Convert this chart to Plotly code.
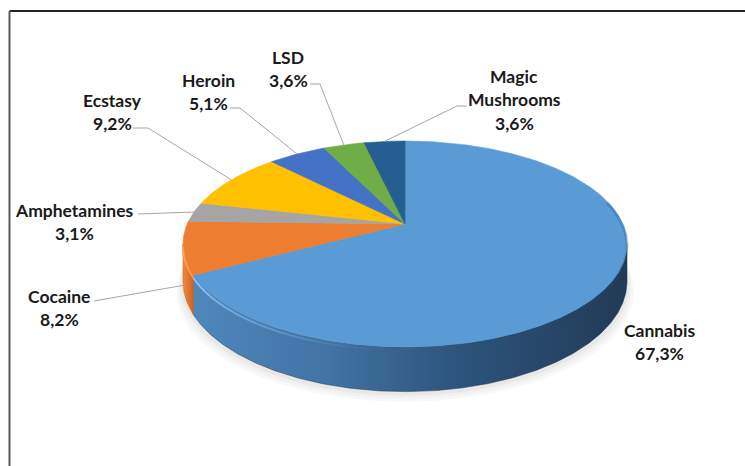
import numpy as np
import plotly.graph_objects as go

# ---- data -------------------------------------------------------------
drugs = ["Cannabis", "Cocaine", "Amphetamines", "Ecstasy", "Heroin", "LSD", "Magic Mushrooms"]
shares = [67.3, 8.2, 3.1, 9.2, 5.1, 3.6, 3.6]

# ---- styling ----------------------------------------------------------
face_colors = {
    "Cannabis": "#5B9BD5",
    "Cocaine": "#ED7D31",
    "Amphetamines": "#A5A5A5",
    "Ecstasy": "#FFC000",
    "Heroin": "#4472C4",
    "LSD": "#70AD47",
    "Magic Mushrooms": "#255E91",
}
side_scales = {
    "Cannabis": [[0, "#4f87bc"], [0.3, "#4274a5"], [0.6, "#2e557d"], [1, "#213a56"]],
    "Cocaine": [[0, "#f28a3a"], [1, "#c8652a"]],
    "Amphetamines": [[0, "#bdbdbd"], [1, "#7a7a7a"]],
    "Ecstasy": [[0, "#ffcc33"], [1, "#b88a00"]],
    "Heroin": [[0, "#5a84cf"], [1, "#2f5090"]],
    "LSD": [[0, "#86c05e"], [1, "#4f7d33"]],
    "Magic Mushrooms": [[0, "#2f6fa8"], [1, "#1a4269"]],
}

# label placement: centre x, y of first line
label_pos = {
    "Cannabis": (659, 330),
    "Cocaine": (59, 296),
    "Amphetamines": (74, 210),
    "Ecstasy": (112, 100),
    "Heroin": (208, 80),
    "LSD": (288, 57),
    "Magic Mushrooms": (514, 76),
}
LINE_GAP = 23.5
# leader line points on the label side, followed by the anchor on the pie
leader_pts = {
    "Cocaine": [(94, 301)],
    "Amphetamines": [(138, 214)],
    "Ecstasy": [(133, 128), (148, 128)],
    "Heroin": [(230, 108), (240, 108)],
    "LSD": [(310, 84), (320, 84)],
    "Magic Mushrooms": [(467, 106), (457, 106)],
}
leader_depth = {"Cocaine": 1.0}

W, H = 745, 466

# ---- 3-D pie projection -------------------------------------------------
CX, CY = 405.0, 224.0     # projected centre of the top face
RX, RY = 217.8, 99.1      # radii of the disc
PERSP = 0.194             # perspective strength (far side shrinks)
DEPTH = 36.0              # thickness of the pie


def rim(theta_deg, t=0.0):
    th = np.radians(theta_deg)
    u, v = np.sin(th), np.cos(th)
    w = 1 + PERSP * v
    return CX + RX * u / w, CY + (-RY * v + DEPTH * t) / w


total = sum(shares)
bounds = np.concatenate([[0], np.cumsum(shares) / total * 360])
vis0 = np.degrees(np.arccos(-PERSP))
vis1 = 360 - vis0

fig = go.Figure()

# soft shadow under the pie
sh_th = np.linspace(0, 360, 241)
for dy, spread, col in [(10, 1.03, "#f8f8f8"), (7, 1.02, "#f1f1f1"), (4, 1.01, "#e8e8e8")]:
    sx, sy = rim(sh_th, 1.0)
    sx = CX + (sx - CX) * spread
    sy = sy + dy
    fig.add_trace(go.Scatter(x=sx, y=sy, fill="toself", fillcolor=col, mode="none",
                             hoverinfo="skip", showlegend=False))

# side walls (front half only)
for name, a0, a1 in zip(drugs, bounds[:-1], bounds[1:]):
    s0, s1 = max(a0, vis0), min(a1, vis1)
    if s1 <= s0:
        continue
    th = np.linspace(s0, s1, max(int((s1 - s0) * 2), 4))
    tx, ty = rim(th, 0.0)
    bx, by = rim(th[::-1], 1.0)
    xs = np.concatenate([tx, bx, tx[:1]])
    ys = np.concatenate([ty, by, ty[:1]])
    fig.add_trace(go.Scatter(
        x=xs, y=ys, fill="toself", mode="lines",
        line=dict(width=0.5, color=side_scales[name][-1][1]),
        fillgradient=dict(type="horizontal", colorscale=side_scales[name],
                          start=float(xs.min()), stop=float(xs.max())),
        hoverinfo="skip", showlegend=False))

# top faces
for name, a0, a1 in zip(drugs, bounds[:-1], bounds[1:]):
    th = np.linspace(a0, a1, max(int((a1 - a0) * 2), 4))
    rx, ry = rim(th)
    xs = np.concatenate([[CX], rx, [CX]])
    ys = np.concatenate([[CY], ry, [CY]])
    fig.add_trace(go.Scatter(x=xs, y=ys, fill="toself", fillcolor=face_colors[name],
                             mode="lines", line=dict(width=0.6, color=face_colors[name]),
                             hoverinfo="skip", showlegend=False))

# bevel highlight on the front-left rim, fading towards the front
seg = np.linspace(185, bounds[1], 24)
for i in range(len(seg) - 1):
    frac = (i + 1) / (len(seg) - 1)
    hx, hy = rim(np.linspace(seg[i], seg[i + 1], 4), 0.07)
    fig.add_trace(go.Scatter(x=hx, y=hy, mode="lines",
                             line=dict(width=2, color=f"rgba(140,200,250,{0.95 * frac ** 1.3:.3f})"),
                             hoverinfo="skip", showlegend=False))
hx, hy = rim(np.linspace(bounds[1], vis1, 20), 0.07)
fig.add_trace(go.Scatter(x=hx, y=hy, mode="lines", line=dict(width=2, color="rgba(255,160,80,0.9)"),
                         hoverinfo="skip", showlegend=False))
# darker bevel on the right rim
seg = np.linspace(vis0 - 25, 170, 20)
for i in range(len(seg) - 1):
    frac = 1 - i / (len(seg) - 1)
    hx, hy = rim(np.linspace(seg[i], seg[i + 1], 4), 0.05)
    fig.add_trace(go.Scatter(x=hx, y=hy, mode="lines",
                             line=dict(width=3, color=f"rgba(45,85,130,{0.3 * frac:.3f})"),
                             hoverinfo="skip", showlegend=False))

# leader lines
for name, a0, a1 in zip(drugs, bounds[:-1], bounds[1:]):
    if name not in leader_pts:
        continue
    ax, ay = rim((a0 + a1) / 2, leader_depth.get(name, 0.0))
    pts = leader_pts[name] + [(float(ax), float(ay))]
    fig.add_trace(go.Scatter(x=[p[0] for p in pts], y=[p[1] for p in pts], mode="lines",
                             line=dict(width=1, color="#a6a6a6"),
                             hoverinfo="skip", showlegend=False))

# data labels
for name, val in zip(drugs, shares):
    x0, y0 = label_pos[name]
    lines = name.split(" ") + [f"{val:.1f}".replace(".", ",") + "%"]
    for i, txt in enumerate(lines):
        fig.add_annotation(x=x0, y=y0 + i * LINE_GAP, text=f"<b>{txt}</b>", showarrow=False,
                           xanchor="center", yanchor="middle",
                           font=dict(family="Lato", size=17.5, color="#1a1a1a"))

# chart frame
fig.add_shape(type="line", x0=9.5, y0=11, x1=W, y1=11, xref="x", yref="y",
              line=dict(color="#222222", width=2))
fig.add_shape(type="line", x0=9.5, y0=11, x1=9.5, y1=H, xref="x", yref="y",
              line=dict(color="#5a5a5a", width=2))

fig.update_layout(
    width=W, height=H, autosize=False,
    margin=dict(l=0, r=0, t=0, b=0),
    paper_bgcolor="white", plot_bgcolor="white",
    xaxis=dict(range=[0, W], visible=False, fixedrange=True),
    yaxis=dict(range=[H, 0], visible=False, fixedrange=True),
    showlegend=False,
)

fig.write_html("out.html")
